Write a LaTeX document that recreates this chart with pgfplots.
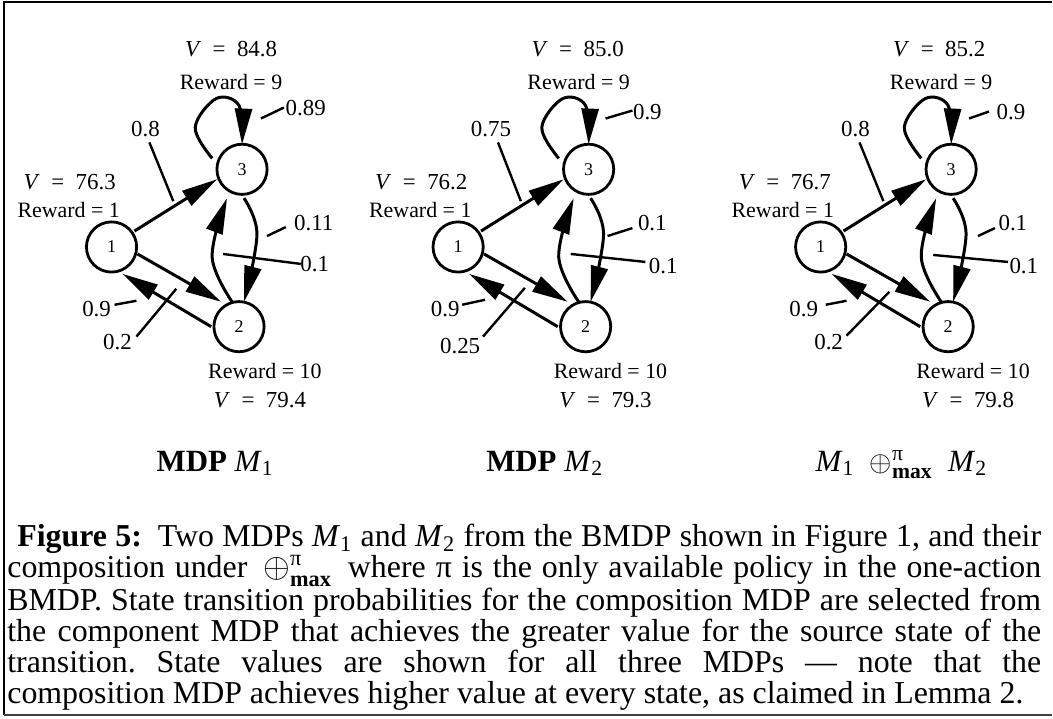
\documentclass[border=0pt]{standalone}
\usepackage{amsmath}
\usepackage{pgfplots}
\pgfplotsset{compat=1.18}
\usetikzlibrary{arrows.meta}
\usepackage{fontspec}
\setmainfont{Liberation Serif}
\frenchspacing
\tikzset{
  lead/.style={black, line width=1.2pt},
  edge/.style={black, line width=1.5pt, -{Triangle[length=18pt,width=8.5pt]}},
  cedge/.style={black, line width=1.5pt, smooth, tension=0.6, -{Triangle[length=18pt,width=8.5pt]}},
  lab/.style={font=\fontsize{11.5}{12}\selectfont, inner sep=0pt},
  rew/.style={font=\fontsize{11}{12}\selectfont, inner sep=0pt},
  val/.style={font=\fontsize{11.5}{12}\selectfont, inner sep=0pt},
  st/.style={font=\fontsize{9}{10}\selectfont, inner sep=0pt},
}
\newcommand\seg[4]{\addplot[lead] coordinates {(#1,#2) (#3,#4)};}
\newcommand\arr[4]{\addplot[edge] coordinates {(#1,#2) (#3,#4)};}
\newcommand\Vl[1]{\textit{V}\enspace=\enspace#1}
\begin{document}
\begin{tikzpicture}
\begin{axis}[
  width=526.5pt, height=360.5pt, scale only axis,
  xmin=0, xmax=1053, ymin=0, ymax=721, y dir=reverse,
  hide axis, clip=false,
]
% bounding box
\addplot[draw=none] coordinates {(0,0) (1053,721)};
% frame
\addplot[black, line width=0.8pt] coordinates {(1056,2) (4,2) (4,718)};
\addplot[black!75, line width=1.3pt] coordinates {(4,718) (1056,718)};

% ===== state circles =====
\addplot[only marks, mark=o, mark size=12.6pt, mark options={line width=1.4pt, black}]
 coordinates {(112,248) (243,170) (240,328) (460,248) (591,170) (588,328) (824,248) (955,170) (952,328)};

% ===== Panel 1 =====
\node[st] at (axis cs:112,248) {1};
\node[st] at (axis cs:243,170) {3};
\node[st] at (axis cs:240,328) {2};
\arr{135}{232}{218}{180}
\arr{138}{255}{222}{303}
\arr{212}{328}{123}{275}
\addplot[cedge] coordinates {(245,199) (258,235) (245,303)};
\addplot[cedge] coordinates {(233,303) (213,258) (228,199)};
\addplot[cedge] coordinates {(213,159) (196,128) (217,99) (240,106) (243,145)};
\seg{262}{119}{285}{108}
\seg{150}{143}{174}{202}
\seg{268}{237}{287}{228}
\seg{224}{255}{302}{265}
\seg{115}{306}{137}{302}
\seg{137}{338}{177}{290}
\node[lab] at (axis cs:307,108) {0.89};
\node[lab] at (axis cs:146,130) {0.8};
\node[lab] at (axis cs:315,224) {0.11};
\node[lab] at (axis cs:316,265) {0.1};
\node[lab] at (axis cs:97,310) {0.9};
\node[lab] at (axis cs:118,343) {0.2};
\node[val] at (axis cs:232,49) {\Vl{84.8}};
\node[rew] at (axis cs:232,82) {Reward = 9};
\node[val] at (axis cs:70,183) {\Vl{76.3}};
\node[rew] at (axis cs:69,211) {Reward = 1};
\node[rew] at (axis cs:266,373) {Reward = 10};
\node[val] at (axis cs:261,402) {\Vl{79.4}};

% ===== Panel 2 =====
\node[st] at (axis cs:460,248) {1};
\node[st] at (axis cs:591,170) {3};
\node[st] at (axis cs:588,328) {2};
\arr{483}{232}{566}{180}
\arr{486}{255}{570}{303}
\arr{560}{328}{471}{275}
\addplot[cedge] coordinates {(593,199) (606,235) (593,303)};
\addplot[cedge] coordinates {(581,303) (561,258) (576,199)};
\addplot[cedge] coordinates {(561,159) (544,128) (565,99) (588,106) (591,145)};
\seg{608}{119}{635}{111}
\seg{500}{143}{523}{202}
\seg{610}{237}{635}{229}
\seg{573}{255}{648}{263}
\seg{464}{306}{487}{301}
\seg{485}{338}{527}{289}
\node[lab] at (axis cs:650,113) {0.9};
\node[lab] at (axis cs:493,130) {0.75};
\node[lab] at (axis cs:655,224) {0.1};
\node[lab] at (axis cs:666,267) {0.1};
\node[lab] at (axis cs:447,310) {0.9};
\node[lab] at (axis cs:462,347) {0.25};
\node[val] at (axis cs:580,49) {\Vl{85.0}};
\node[rew] at (axis cs:581,82) {Reward = 9};
\node[val] at (axis cs:423,183) {\Vl{76.2}};
\node[rew] at (axis cs:422,211) {Reward = 1};
\node[rew] at (axis cs:613,373) {Reward = 10};
\node[val] at (axis cs:608,402) {\Vl{79.3}};

% ===== Panel 3 =====
\node[st] at (axis cs:824,248) {1};
\node[st] at (axis cs:955,170) {3};
\node[st] at (axis cs:952,328) {2};
\arr{847}{232}{930}{180}
\arr{850}{255}{934}{303}
\arr{924}{328}{835}{275}
\addplot[cedge] coordinates {(957,199) (970,235) (957,303)};
\addplot[cedge] coordinates {(945,303) (925,258) (940,199)};
\addplot[cedge] coordinates {(925,159) (908,128) (929,99) (952,106) (955,145)};
\seg{973}{119}{993}{112}
\seg{863}{143}{887}{202}
\seg{982}{237}{999}{229}
\seg{937}{256}{1012}{263}
\seg{829}{306}{850}{302}
\seg{850}{337}{893}{293}
\node[lab] at (axis cs:1015,113) {0.9};
\node[lab] at (axis cs:859,130) {0.8};
\node[lab] at (axis cs:1017,224) {0.1};
\node[lab] at (axis cs:1028,267) {0.1};
\node[lab] at (axis cs:807,310) {0.9};
\node[lab] at (axis cs:832,343) {0.2};
\node[val] at (axis cs:943,49) {\Vl{85.2}};
\node[rew] at (axis cs:945,82) {Reward = 9};
\node[val] at (axis cs:788,183) {\Vl{76.7}};
\node[rew] at (axis cs:786,211) {Reward = 1};
\node[rew] at (axis cs:977,373) {Reward = 10};
\node[val] at (axis cs:972,402) {\Vl{79.8}};

% ===== titles =====
\node[anchor=base, inner sep=0pt, font=\fontsize{15.5}{16}\selectfont] at (axis cs:216,473) {\textbf{MDP} \textit{M}$_{\text{1}}$};
\node[anchor=base, inner sep=0pt, font=\fontsize{15.5}{16}\selectfont] at (axis cs:547,473) {\textbf{MDP} \textit{M}$_{\text{2}}$};
\node[anchor=base, inner sep=0pt, font=\fontsize{15.5}{16}\selectfont] at (axis cs:905,473) {\textit{M}$_{\text{1}}$\enspace$\oplus^{\text{π}}_{\text{\bfseries max}}$\enspace\textit{M}$_{\text{2}}$};

% ===== caption =====
\node[anchor=north west, inner sep=0pt, text width=519pt, align=justify,
      font=\fontsize{16}{15.5}\selectfont] at (axis cs:7,526) {%
\hspace*{5pt}\textbf{Figure 5:}\enspace Two MDPs \textit{M}$_{\text{1}}$ and \textit{M}$_{\text{2}}$ from the BMDP shown in Figure 1, and their\linebreak
composition under\enspace $\oplus^{\text{π}}_{\text{\bfseries max}}$\enspace where π is the only available policy in the one-action\linebreak
BMDP. State transition probabilities for the composition MDP are selected from\linebreak
the component MDP that achieves the greater value for the source state of the\linebreak
transition. State values are shown for all three MDPs — note that the\linebreak
composition MDP achieves higher value at every state, as claimed in Lemma 2.};
\end{axis}
\end{tikzpicture}
\end{document}
